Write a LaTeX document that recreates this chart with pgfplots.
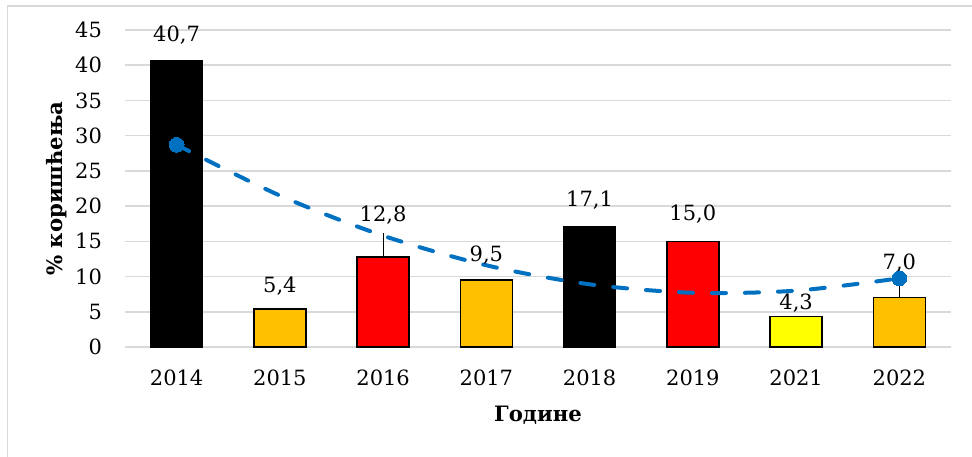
\documentclass[border=0pt]{standalone}
\usepackage{pgfplots}
\pgfplotsset{compat=1.18}
\usepackage{pgfplotstable}
\usepackage{fontspec}
\setmainfont{DejaVu Serif}

\definecolor{barorange}{HTML}{FFC000}
\definecolor{baryellow}{HTML}{FFFF00}
\definecolor{barred}{HTML}{FF0000}
\definecolor{trendblue}{HTML}{0070C0}
\definecolor{gridgray}{HTML}{D9D9D9}

\pgfplotstableread{
x y off err
0 40.7 12.5 0
4 17.1 13.3 0
}\blackbars
\pgfplotstableread{
x y off err
1 5.4 11.5 0
3 9.5 12.5 0
7 7.0 17.5 2.8
}\orangebars
\pgfplotstableread{
x y off err
2 12.8 21.0 3.4
5 15.0 13.5 0
}\redbars
\pgfplotstableread{
x y off err
6 4.3 7.0 0
}\yellowbars
\pgfplotstableread{
x y
0 28.7
1 21.5
2 15.8
3 11.6
4 8.9
5 7.7
6 8.0
7 9.75
}\trend

\pgfplotsset{
  mybars/.style={
    ybar, bar width=26pt, bar shift=0pt,
    draw=black, line width=0.75pt,
    point meta=y,
    nodes near coords={\pgfmathprintnumber[fixed,fixed zerofill,precision=1,use comma]{\pgfplotspointmeta}},
    visualization depends on={\thisrow{off} \as \myoff},
    every node near coord/.append style={anchor=center, yshift=\myoff pt, font=\fontsize{10.5}{12}\selectfont, text=black},
    error bars/y dir=plus, error bars/y explicit,
    error bars/error mark=none,
    error bars/error bar style={draw=black, line width=0.5pt, solid},
  },
}

\begin{document}
\begin{tikzpicture}[font=\fontsize{10.5}{12}\selectfont]
\useasboundingbox (0,0) rectangle (486pt,228pt);
\draw[gridgray, line width=0.75pt] (3.7pt,-5pt) -- (3.7pt,225pt) -- (500pt,225pt);
\begin{axis}[
  at={(62.5pt,54.5pt)}, anchor=south west,
  scale only axis, width=413pt, height=158.5pt,
  xmin=-0.5, xmax=7.5, ymin=0, ymax=45,
  xtick={0,1,2,3,4,5,6,7},
  xticklabels={2014,2015,2016,2017,2018,2019,2021,2022},
  ytick={0,5,10,15,20,25,30,35,40,45},
  axis line style={draw=none},
  major tick length=0pt,
  ymajorgrids, major grid style={draw=gridgray, line width=0.75pt},
  /pgf/number format/assume math mode=true,
  tick label style={font=\fontsize{10.5}{12}\selectfont},
  yticklabel style={anchor=east, xshift=-8pt},
  xticklabel style={anchor=north, yshift=-8pt},
  clip=false,
  xlabel={Године}, ylabel={\% коришћења},
  every axis x label/.style={at={(axis description cs:0.5,-0.2145)}, anchor=center, font=\bfseries\fontsize{10.6}{13}\selectfont},
  every axis y label/.style={at={(axis description cs:-0.0823,0.5)}, anchor=center, rotate=90, font=\bfseries\fontsize{10.6}{13}\selectfont},
]
\addplot[mybars, fill=black] table[x=x, y=y, y error=err] {\blackbars};
\addplot[mybars, fill=barorange] table[x=x, y=y, y error=err] {\orangebars};
\addplot[mybars, fill=barred] table[x=x, y=y, y error=err] {\redbars};
\addplot[mybars, fill=baryellow] table[x=x, y=y, y error=err] {\yellowbars};
\addplot[color=trendblue, line width=2pt, dash pattern=on 7pt off 9.5pt, line cap=round, smooth,
  mark=*, mark indices={1,8}, mark size=3.7pt, mark options={solid, fill=trendblue, draw=trendblue, line width=0pt}]
  table[x=x, y=y] {\trend};
\end{axis}
\end{tikzpicture}
\end{document}
